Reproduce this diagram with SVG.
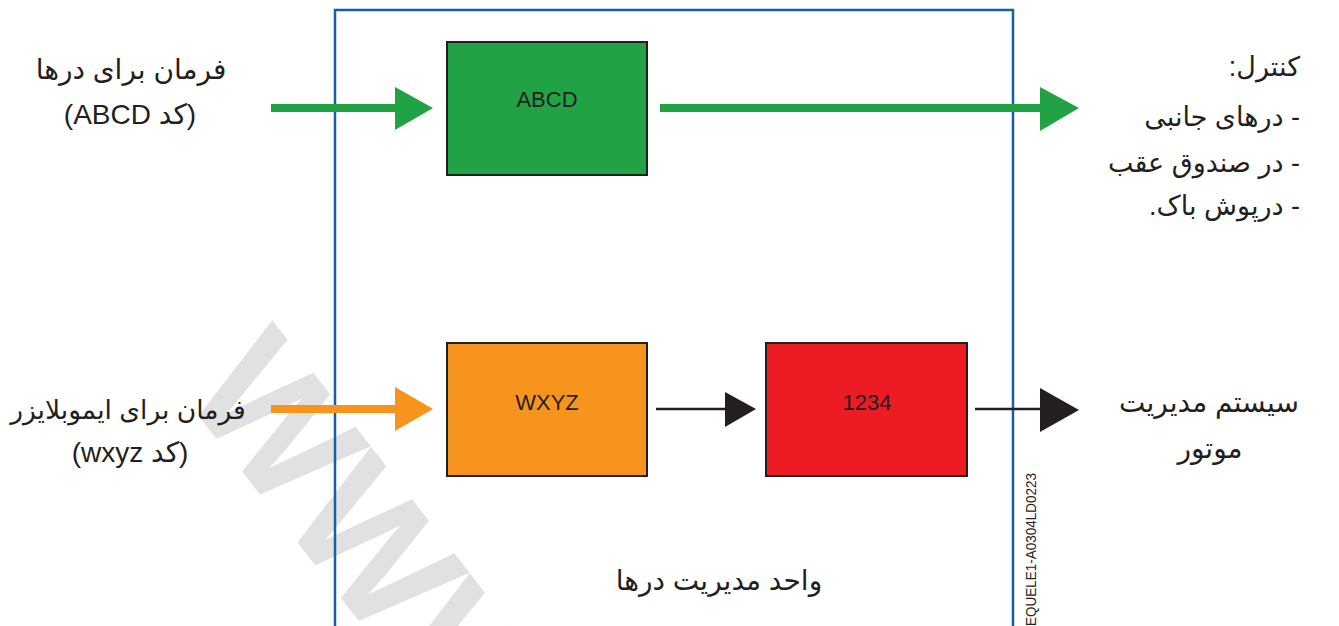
<svg xmlns="http://www.w3.org/2000/svg" width="1339" height="626" viewBox="0 0 1339 626">
<style>
.fa{font-family:"Liberation Sans","DejaVu Sans",sans-serif;font-size:28px;fill:#231f20;direction:rtl;unicode-bidi:embed}
.li{font-size:27px}
.c{text-anchor:middle}
.r{text-anchor:start}
.lbl{font-family:"Liberation Sans",Arial,sans-serif;font-size:22px;fill:#231f20;text-anchor:middle}
.box{stroke:#231f20;stroke-width:2}
.wm{font-family:"Liberation Sans",sans-serif;font-weight:bold;font-size:170px;fill:#e1e1e1}
</style>
<g id="watermark">
<text class="wm" transform="translate(180,392) rotate(52)">WWW</text>
</g>
<g id="frame">
<path d="M335,626 V10 H1013 V626" fill="none" stroke="#1a5ea8" stroke-width="2.5"/>
</g>
<g id="connectors">
<rect x="271" y="104" width="126" height="8" fill="#21a345"/>
<polygon points="395,87 433,108 395,130" fill="#21a345"/>
<rect x="660" y="104" width="382" height="8" fill="#21a345"/>
<polygon points="1040,87 1079,108 1040,131" fill="#21a345"/>
<rect x="271" y="405" width="126" height="8" fill="#f7941d"/>
<polygon points="395,387 433,409 395,431" fill="#f7941d"/>
<line x1="656" y1="409" x2="727" y2="409" stroke="#231f20" stroke-width="2.5"/>
<polygon points="725,392 756,409 725,427" fill="#231f20"/>
<line x1="975" y1="409" x2="1042" y2="409" stroke="#231f20" stroke-width="2.5"/>
<polygon points="1040,388 1079,410 1040,432" fill="#231f20"/>
</g>
<g id="node-abcd">
<rect class="box" x="447" y="42" width="200" height="133" fill="#21a345"/>
<text class="lbl" x="547" y="107">ABCD</text>
</g>
<g id="node-wxyz">
<rect class="box" x="447" y="343" width="200" height="133" fill="#f7941d"/>
<text class="lbl" x="547" y="410">WXYZ</text>
</g>
<g id="node-1234">
<rect class="box" x="766" y="343" width="201" height="133" fill="#ed1c24"/>
<text class="lbl" x="867" y="410">1234</text>
</g>
<g id="input-doors">
<text class="fa c" x="131" y="79">فرمان برای درها</text>
<text class="fa c" x="130" y="124">(کد ABCD)</text>
</g>
<g id="input-immo">
<text class="fa c" x="128" y="419" style="font-size:26.5px">فرمان برای ایموبلایزر</text>
<text class="fa c" x="130" y="462">(کد wxyz)</text>
</g>
<g id="output-control">
<text class="fa li r" x="1300" y="76">کنترل:</text>
<text class="fa li r" x="1300" y="126">- درهای جانبی</text>
<text class="fa li r" x="1300" y="172">- در صندوق عقب</text>
<text class="fa li r" x="1300" y="215">- درپوش باک.</text>
</g>
<g id="output-engine">
<text class="fa c" x="1209" y="412">سیستم مدیریت</text>
<text class="fa c" x="1210" y="458">موتور</text>
</g>
<g id="unit-label">
<text class="fa c" x="719" y="590">واحد مدیریت درها</text>
</g>
<g id="ref-code">
<text transform="translate(1036,473) rotate(-90)" font-family="Liberation Sans,Arial,sans-serif" font-size="14" fill="#231f20" text-anchor="end" textLength="153" lengthAdjust="spacingAndGlyphs">EQUELE1-A0304LD0223</text>
</g>
</svg>
